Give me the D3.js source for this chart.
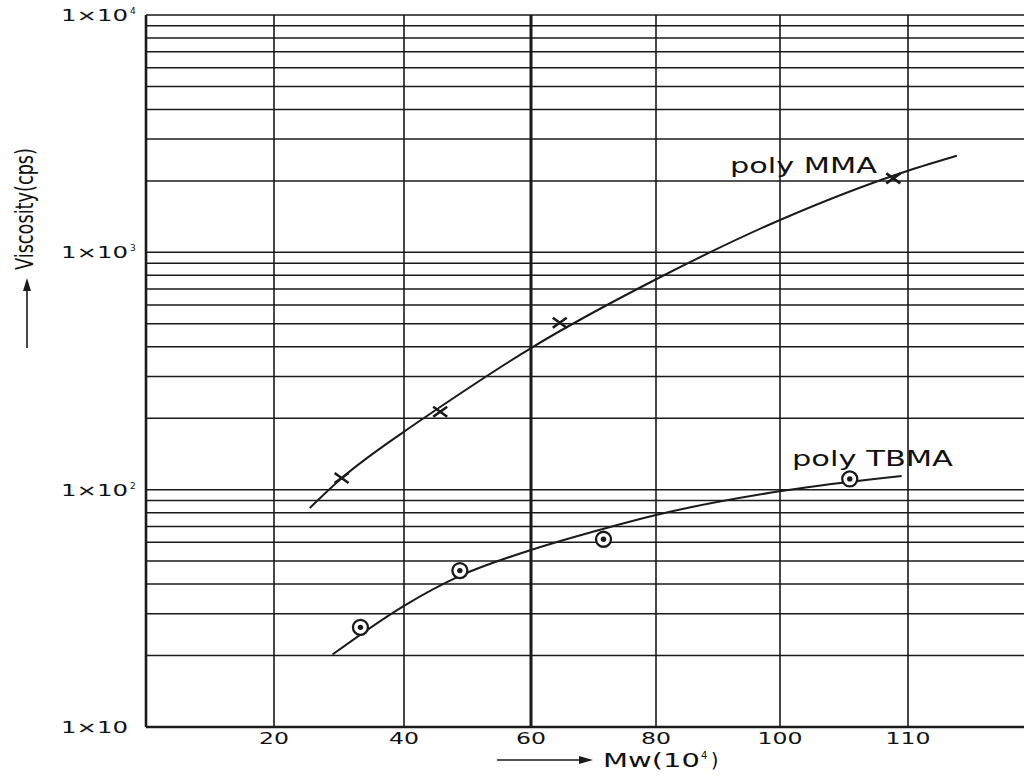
<!DOCTYPE html>
<html>
<head>
<meta charset="utf-8">
<script src="https://cdn.jsdelivr.net/npm/d3@7"></script>
<style>
  html, body { margin: 0; padding: 0; background: #fff; }
  svg { display: block; }
  text { font-family: "DejaVu Sans", "Liberation Sans", Arial, sans-serif; fill: #111; }
</style>
</head>
<body>
<svg id="chart" width="1024" height="777"></svg>
<script>
// ---- data ----
const xTickValues = [20, 40, 60, 80, 100, 120];
const xTickLabels = ["20", "40", "60", "80", "100", "110"];
const yLabelValues = [10, 100, 1000, 10000];
const yLabelExponents = ["", "2", "3", "4"];

// poly MMA measured points (x marks) and the drawn curve
const mmaX = [30.4, 45.7, 64.6, 117.7];
const mmaY = [112, 213, 505, 2050];
const mmaCurveX = [25.5, 30.4, 40.0, 45.7, 60.0, 80.1, 100.0, 120.0, 127.7];
const mmaCurveY = [83.7, 111.7, 175.5, 223, 395, 772, 1369, 2208, 2554];

// poly TBMA measured points (circle-dot) and the drawn curve
const tbmaX = [33.3, 48.8, 71.6, 110.9];
const tbmaY = [26.3, 45.6, 61.8, 111];
const tbmaCurveX = [29.0, 40.0, 48.8, 60.0, 71.5, 80.0, 100.2, 119.0];
const tbmaCurveY = [20.2, 32.4, 43.3, 55.7, 68.3, 78.2, 98.7, 114.2];

const seriesLabels = ["poly MMA", "poly TBMA"];
const xTitle = "Mw(10";
const xTitleSup = "4";
const yTitle = "Viscosity(cps)";

// ---- drawing ----
const svg = d3.select("#chart");
// graph-paper x axis (slightly uneven spacing of the printed grid)
const x = d3.scaleLinear()
  .domain([0, 20, 40, 60, 80, 100, 120, 140])
  .range([146, 274, 404, 531, 656, 780, 908, 1035]);
const y = d3.scaleLog().domain([10, 10000]).range([727, 15]);

const ink = "#1a1a1a";

// horizontal grid (1..9 x each decade)
const gridY = y.ticks();
svg.append("g").selectAll("line").data(gridY).join("line")
  .attr("x1", x(0)).attr("x2", 1024)
  .attr("y1", d => y(d)).attr("y2", d => y(d))
  .attr("stroke", ink).attr("stroke-width", d => (d === 10 ? 2.4 : 1.5));

// vertical grid
svg.append("g").selectAll("line").data(xTickValues).join("line")
  .attr("x1", d => x(d)).attr("x2", d => x(d))
  .attr("y1", y(10000)).attr("y2", y(10))
  .attr("stroke", ink).attr("stroke-width", d => (d === 60 ? 3 : 1.6));

// left axis
svg.append("line")
  .attr("x1", x(0)).attr("x2", x(0)).attr("y1", y(10000)).attr("y2", y(10))
  .attr("stroke", ink).attr("stroke-width", 2.6);

// y tick labels: "1×10" + superscript exponent
svg.append("g").selectAll("text").data(yLabelValues).join("text")
  .attr("x", 61).attr("y", d => y(d) + 6)
  .attr("font-size", 16)
  .attr("textLength", 67).attr("lengthAdjust", "spacingAndGlyphs")
  .text("1×10");
svg.append("g").selectAll("text").data(yLabelValues).join("text")
  .attr("x", 130).attr("y", d => y(d) - 1)
  .attr("font-size", 9)
  .text((d, i) => yLabelExponents[i]);

// x tick labels
svg.append("g").selectAll("text").data(xTickValues).join("text")
  .attr("x", d => x(d)).attr("y", 744)
  .attr("text-anchor", "middle").attr("font-size", 15)
  .attr("textLength", (d, i) => xTickLabels[i].length * 15)
  .attr("lengthAdjust", "spacingAndGlyphs")
  .text((d, i) => xTickLabels[i]);

// x title with arrow
svg.append("line").attr("x1", 497).attr("x2", 582).attr("y1", 760).attr("y2", 760)
  .attr("stroke", ink).attr("stroke-width", 1.6);
svg.append("path").attr("d", "M593,760 L579,756 L579,764 Z").attr("fill", ink);
svg.append("text").attr("x", 603).attr("y", 767).attr("font-size", 19)
  .attr("textLength", 97).attr("lengthAdjust", "spacingAndGlyphs").text(xTitle);
svg.append("text").attr("x", 701).attr("y", 759).attr("font-size", 10).text(xTitleSup);
svg.append("text").attr("x", 711).attr("y", 767).attr("font-size", 19).text(")");

// y title with arrow
svg.append("text")
  .attr("transform", "translate(33,270) rotate(-90)")
  .attr("font-size", 25)
  .attr("textLength", 122).attr("lengthAdjust", "spacingAndGlyphs")
  .text(yTitle);
svg.append("line").attr("x1", 27).attr("x2", 27).attr("y1", 348).attr("y2", 288)
  .attr("stroke", ink).attr("stroke-width", 1.6);
svg.append("path").attr("d", "M27,278 L23,291 L31,291 Z").attr("fill", ink);

// curves
const line = d3.line().x(d => x(d[0])).y(d => y(d[1])).curve(d3.curveMonotoneX);
svg.append("path")
  .attr("d", line(d3.zip(mmaCurveX, mmaCurveY)))
  .attr("fill", "none").attr("stroke", ink).attr("stroke-width", 2);
svg.append("path")
  .attr("d", line(d3.zip(tbmaCurveX, tbmaCurveY)))
  .attr("fill", "none").attr("stroke", ink).attr("stroke-width", 2);

// MMA crosses
const mma = d3.zip(mmaX, mmaY);
svg.append("g").selectAll("path").data(mma).join("path")
  .attr("transform", d => `translate(${x(d[0])},${y(d[1])})`)
  .attr("d", "M-7,-5 L7,5 M-7,5 L7,-5")
  .attr("stroke", ink).attr("stroke-width", 2.6).attr("fill", "none");

// TBMA circle-dots
const tbma = d3.zip(tbmaX, tbmaY);
const tg = svg.append("g").selectAll("g").data(tbma).join("g")
  .attr("transform", d => `translate(${x(d[0])},${y(d[1])})`);
tg.append("circle").attr("r", 7.5).attr("fill", "#fff").attr("stroke", ink).attr("stroke-width", 2.3);
tg.append("circle").attr("r", 2.7).attr("fill", ink);

// series labels
svg.append("text").attr("x", 730).attr("y", 173).attr("font-size", 21)
  .attr("textLength", 147).attr("lengthAdjust", "spacingAndGlyphs").text(seriesLabels[0]);
svg.append("text").attr("x", 792).attr("y", 466).attr("font-size", 21)
  .attr("textLength", 161).attr("lengthAdjust", "spacingAndGlyphs").text(seriesLabels[1]);
</script>
</body>
</html>
